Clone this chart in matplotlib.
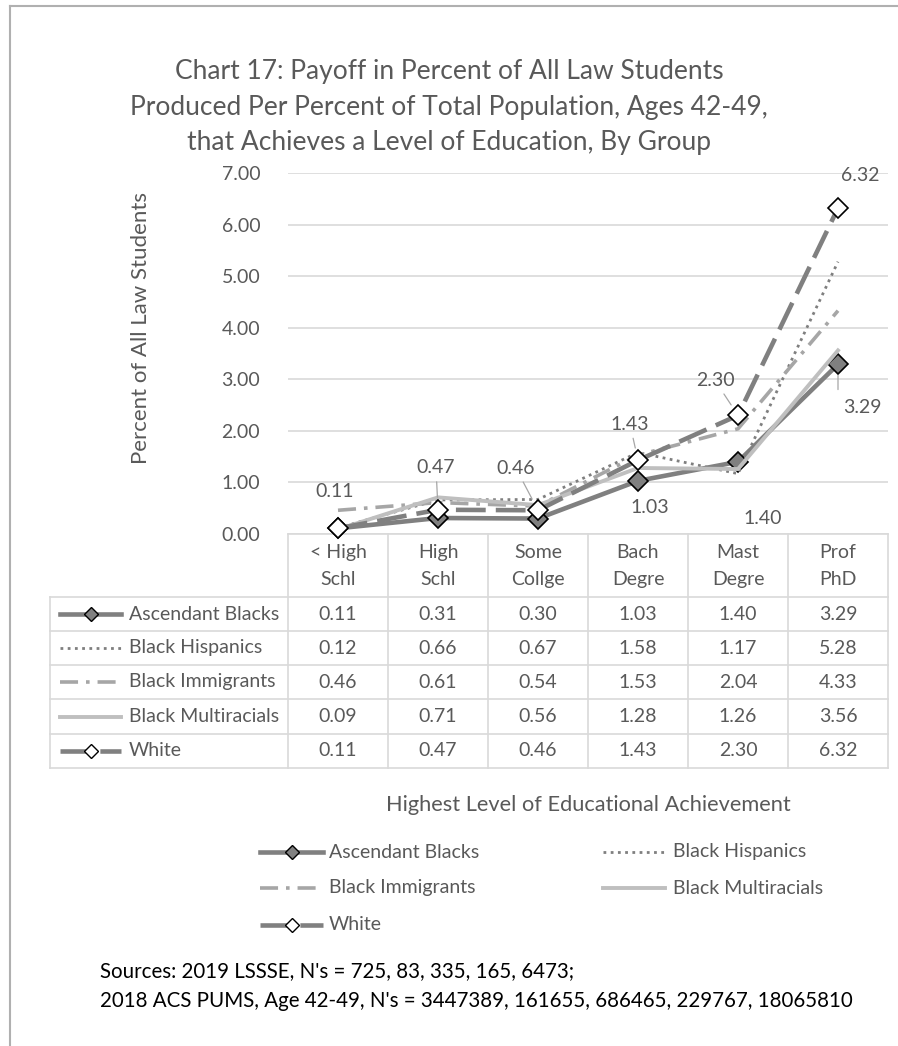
import matplotlib
matplotlib.use('Agg')
import matplotlib.pyplot as plt
from matplotlib.lines import Line2D
from matplotlib.transforms import blended_transform_factory

plt.rcParams['font.family'] = ['Lato', 'DejaVu Sans']

# data
categories = ['< High\nSchl', 'High\nSchl', 'Some\nCollge', 'Bach\nDegre', 'Mast\nDegre', 'Prof\nPhD']
ascendant = [0.11, 0.31, 0.30, 1.03, 1.40, 3.29]
hispanics = [0.12, 0.66, 0.67, 1.58, 1.17, 5.28]
immigrants = [0.46, 0.61, 0.54, 1.53, 2.04, 4.33]
multiracials = [0.09, 0.71, 0.56, 1.28, 1.26, 3.56]
white = [0.11, 0.47, 0.46, 1.43, 2.30, 6.32]
series_names = ['Ascendant Blacks', 'Black Hispanics', 'Black Immigrants',
                'Black Multiracials', 'White']
yticks = [0, 1, 2, 3, 4, 5, 6, 7]

TXT = '#595959'
GRID = '#d9d9d9'
W, H = 898, 1046

# line styles per series
styles = [
    dict(color='#808080', lw=3.3, ls='-', marker='D', ms=10.5, mfc='#808080', mec='black', mew=1.2),
    dict(color='#7f7f7f', lw=2.0, ls=(0, (1, 1.6)), marker=None),
    dict(color='#a6a6a6', lw=2.6, ls=(0, (5, 2.2, 1, 2.2)), marker=None),
    dict(color='#bfbfbf', lw=2.8, ls='-', marker=None),
    dict(color='#808080', lw=3.3, ls=(0, (6.5, 2.2)), marker='D', ms=10.5, mfc='white', mec='black', mew=1.2),
]
all_series = [ascendant, hispanics, immigrants, multiracials, white]

fig = plt.figure(figsize=(W / 100, H / 100), dpi=100)

# overlay in pixel coordinates for table, legend and frame
ov = fig.add_axes([0, 0, 1, 1])
ov.set_xlim(0, W)
ov.set_ylim(H, 0)
ov.axis('off')

ax = fig.add_axes([288 / W, 1 - 534 / H, 600 / W, 361 / H])
ax.set_xlim(-0.5, 5.5)
ax.set_ylim(0, 7)
ax.set_yticks(yticks)
ax.set_yticklabels(['%.2f' % v for v in yticks])
ax.tick_params(axis='y', length=0, pad=20, labelsize=14, labelcolor=TXT)
ax.set_xticks([])
ax.grid(axis='y', color=GRID, lw=1.2)
ax.set_axisbelow(True)
for s in ax.spines.values():
    s.set_visible(False)
ax.patch.set_alpha(0)

x = list(range(len(categories)))
for vals, st in zip(all_series, styles):
    ax.plot(x, vals, color=st['color'], lw=st['lw'], ls=st['ls'],
            marker=st['marker'], ms=st.get('ms', 0), mfc=st.get('mfc'),
            mec=st.get('mec'), mew=st.get('mew', 0), zorder=3, clip_on=False)

ax.set_ylabel('Percent of All Law Students', fontsize=16, color=TXT)
ax.yaxis.set_label_coords(-0.228, 0.57)

# data labels (White above, Ascendant below) - offsets in pixels
white_off = [(-3, 37, False), (-2, 42, True), (-22, 42, True), (-8, 36, True), (-23, 35, True), (22, 33, False)]
for i, (dx, dy, lead) in enumerate(white_off):
    ax.annotate('%.2f' % white[i], (i, white[i]), xytext=(dx, dy), textcoords='offset pixels',
                ha='center', va='center', fontsize=14, color=TXT, zorder=5,
                arrowprops=dict(arrowstyle='-', color='#a6a6a6', lw=0.9, shrinkA=2, shrinkB=9) if lead else None)
asc_off = {3: (12, -27), 4: (25, -57), 5: (24, -43)}
for i, (dx, dy) in asc_off.items():
    ax.annotate('%.2f' % ascendant[i], (i, ascendant[i]), xytext=(dx, dy), textcoords='offset pixels',
                ha='center', va='center', fontsize=14, color=TXT, zorder=5)
# short leader under the last Ascendant point
ax.annotate(' ', (5, ascendant[5]), xytext=(0, -30), textcoords='offset pixels',
            ha='center', va='center', fontsize=2,
            arrowprops=dict(arrowstyle='-', color='#a6a6a6', lw=0.9, shrinkA=0, shrinkB=8))

# title
title = ('Chart 17: Payoff in Percent of All Law Students\n'
         'Produced Per Percent of Total Population, Ages 42-49,\n'
         'that Achieves a Level of Education, By Group')
ov.text(449, 107, title, ha='center', va='center', fontsize=19, color=TXT, linespacing=1.52)

# data table
bt = blended_transform_factory(ax.transData, ov.transData)
row_edges = [597, 631, 665, 699, 734, 768]
tx0 = 50
for yy in row_edges:
    ov.plot([tx0, 888], [yy, yy], color=GRID, lw=1.2)
ov.plot([288, 888], [534, 534], color=GRID, lw=1.2)
for k in range(len(categories) + 1):
    ov.plot([k - 0.5, k - 0.5], [534, 768], color=GRID, lw=1.2, transform=bt)
ov.plot([tx0, tx0], [597, 768], color=GRID, lw=1.2)

for i, cat in enumerate(categories):
    ov.text(i, 566, cat, transform=bt, ha='center', va='center', fontsize=14,
            color=TXT, linespacing=1.65)


def handle(axis, x0, x1, yy, st):
    axis.add_line(Line2D([x0, x1], [yy, yy], color=st['color'], lw=st['lw'], ls=st['ls']))
    if st['marker']:
        axis.add_line(Line2D([(x0 + x1) / 2], [yy], marker=st['marker'], ms=st['ms'] * 0.72,
                             mfc=st['mfc'], mec=st['mec'], mew=1.0, ls='none'))


for r, (name, vals, st) in enumerate(zip(series_names, all_series, styles)):
    yc = (row_edges[r] + row_edges[r + 1]) / 2
    handle(ov, 60, 121, yc, st)
    ov.text(129, yc, name, ha='left', va='center', fontsize=14, color=TXT)
    for i, v in enumerate(vals):
        ov.text(i, yc, '%.2f' % v, transform=bt, ha='center', va='center', fontsize=14, color=TXT)

ov.text(588, 805, 'Highest Level of Educational Achievement', ha='center', va='center',
        fontsize=15.7, color=TXT)

# bottom legend
leg_pos = [(260, 323, 329, 852), (603, 665, 673, 852), (260, 323, 329, 888),
           (603, 665, 673, 888), (260, 323, 329, 925)]
for (x0, x1, xt, yy), name, st in zip(leg_pos, series_names, styles):
    handle(ov, x0, x1, yy, st)
    ov.text(xt, yy, name, ha='left', va='center', fontsize=14, color=TXT)

ov.text(100, 971, "Sources: 2019 LSSSE, N's = 725, 83, 335, 165, 6473;", ha='left', va='center',
        fontsize=14.8, color='black')
ov.text(100, 1001, "2018 ACS PUMS, Age 42-49, N's = 3447389, 161655, 686465, 229767, 18065810",
        ha='left', va='center', fontsize=14.8, color='black')

# outer frame
ov.plot([10, 10], [6, H], color='#b0b0b0', lw=1.5)
ov.plot([10, W], [6, 6], color='#b0b0b0', lw=1.5)

fig.savefig('out.png', dpi=100)
